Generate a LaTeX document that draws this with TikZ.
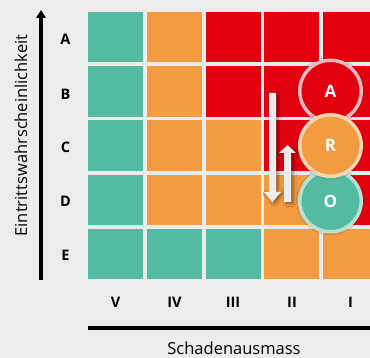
\documentclass[tikz,border=0pt]{standalone}
\usepackage{fontspec}
\setmainfont{Open Sans}
\usetikzlibrary{arrows.meta,shadows.blur}
\definecolor{bgc}{HTML}{ECECEC}
\definecolor{tealc}{HTML}{54BBA2}
\definecolor{orangec}{HTML}{F39B41}
\definecolor{redc}{HTML}{E2000F}
\definecolor{arrowc}{HTML}{EDEDED}
\definecolor{ringA}{HTML}{EBB9BE}
\definecolor{ringR}{HTML}{F6D5B3}
\definecolor{ringO}{HTML}{B8E1D5}
\tikzset{
  cell/.style={anchor=north west,minimum width=55pt,minimum height=50.5pt,inner sep=0pt,outer sep=0pt},
  lab/.style={font=\bfseries\fontsize{14.5}{15}\selectfont,text=black,inner sep=0pt},
  title/.style={font=\fontsize{16.5}{17}\selectfont,text=black,inner sep=0pt},
  risk/.style={circle,minimum size=61.5pt,inner sep=0pt,line width=3.5pt,text=white,
    font=\bfseries\fontsize{17}{17}\selectfont,
    blur shadow={shadow xshift=0pt,shadow yshift=0pt,shadow blur radius=3pt,shadow opacity=30}},
  blockarrow/.style={fill=arrowc,draw=none,
    blur shadow={shadow xshift=2pt,shadow yshift=-1.5pt,shadow blur radius=3pt,shadow opacity=45}},
  axis/.style={line width=4.5pt,black}
}
\begin{document}
\begin{tikzpicture}[x=1pt,y=-1pt]
\useasboundingbox (0,0) rectangle (370,358);
\fill[bgc] (0,0) rectangle (370,358);
\begin{scope}
\clip (0,0) rectangle (370,358);
% grid
\foreach \col [count=\j from 0] in {tealc,orangec,redc,redc,redc}
  \node[cell,fill=\col] (A\j) at (88+58.75*\j,12) {};
\foreach \col [count=\j from 0] in {tealc,orangec,redc,redc,redc}
  \node[cell,fill=\col] (B\j) at (88+58.75*\j,66.25) {};
\foreach \col [count=\j from 0] in {tealc,orangec,orangec,redc,redc}
  \node[cell,fill=\col] (C\j) at (88+58.75*\j,120.5) {};
\foreach \col [count=\j from 0] in {tealc,orangec,orangec,orangec,redc}
  \node[cell,fill=\col] (D\j) at (88+58.75*\j,174.75) {};
\foreach \col [count=\j from 0] in {tealc,tealc,tealc,orangec,orangec}
  \node[cell,fill=\col] (E\j) at (88+58.75*\j,229) {};
% block arrows
\path[blockarrow] (269,93) -- (276,93) -- (276,192) -- (281,192) -- (272.5,202) -- (264,192) -- (269,192) -- cycle;
\path[blockarrow] (284,202) -- (291,202) -- (291,153) -- (296,153) -- (287.5,145) -- (279,153) -- (284,153) -- cycle;
% risk circles
\node[risk,fill=redc,draw=ringA] (cA) at (330.5,91) {A};
\node[risk,fill=tealc,draw=ringO] (cO) at (330.5,201) {O};
\node[risk,fill=orangec,draw=ringR] (cR) at (330.5,145.5) {R};
% axes
\coordinate (yb) at (41,280);
\coordinate (yt) at (41,10);
\draw[axis,-{Triangle[width=9.5pt,length=8pt]}] (yb) -- (yt);
\coordinate (xl) at (88,328);
\coordinate (xr) at (372,328);
\draw[axis] (xl) -- (xr);
\end{scope}
% row labels
\node[lab] (lA) at (65.5,39) {A};
\node[lab] (lB) at (65.5,94) {B};
\node[lab] (lC) at (65.5,147.5) {C};
\node[lab] (lD) at (65.5,201) {D};
\node[lab] (lE) at (65.5,255.5) {E};
% column labels
\node[lab] (l5) at (115.5,302) {V};
\node[lab] (l4) at (174.5,302) {IV};
\node[lab] (l3) at (233,302) {III};
\node[lab] (l2) at (292,302) {II};
\node[lab] (l1) at (350.5,302) {I};
% axis titles
\node[title,rotate=90] (ty) at (21,135.5) {Eintrittswahrscheinlichkeit};
\node[title,anchor=base] (tx) at (234,355) {Schadenausmass};
\end{tikzpicture}
\end{document}
